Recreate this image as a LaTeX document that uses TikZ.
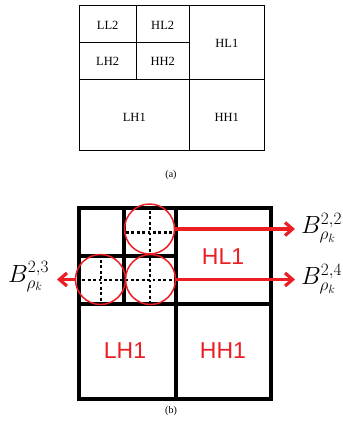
\documentclass[tikz,border=0pt]{standalone}
\usepackage{fontspec}
\setmainfont{Liberation Serif}
\newfontfamily\arialf{Liberation Sans}
\usetikzlibrary{arrows.meta}
\definecolor{rred}{RGB}{235,30,35}
\begin{document}
\begin{tikzpicture}[x=1pt,y=-1pt,
 thingrid/.style={line width=1pt, black},
 thickgrid/.style={line width=3.7pt, black, line join=miter},
 lab/.style={font=\fontsize{12.5}{12.5}\selectfont, inner sep=0},
 sublab/.style={font=\fontsize{23}{23}\selectfont\arialf, text=rred, inner sep=0},
 dotline/.style={line width=2.8pt, dash pattern=on 2.7pt off 2.7pt},
 circ/.style={circle, draw=rred, line width=1.5pt, minimum size=50pt, inner sep=0},
 redarrow/.style={draw=rred, line width=3.2pt, -{Straight Barb[length=7.5pt,width=13pt]}},
 blab/.style={font=\fontsize{24}{24}\selectfont, inner sep=0, anchor=base west},
 captext/.style={font=\fontsize{10}{10}\selectfont, inner sep=0}
]
\useasboundingbox (0,0) rectangle (343,421);
% ---------- (a) ----------
\draw[thingrid] (79.3,5.3) rectangle (264.3,150.7);
\draw[thingrid] (189.3,5.3) -- (189.3,150.7);
\draw[thingrid] (79.3,79.3) -- (264.3,79.3);
\draw[thingrid] (136,5.3) -- (136,79.3);
\draw[thingrid] (79.3,42) -- (189.3,42);
\node[lab] (all2) at (107.7,25) {LL2};
\node[lab] (ahl2) at (162.7,25) {HL2};
\node[lab] (alh2) at (107.7,61.5) {LH2};
\node[lab] (ahh2) at (162.7,61.5) {HH2};
\node[lab] (ahl1) at (226.8,43.5) {HL1};
\node[lab] (alh1) at (134.3,117) {LH1};
\node[lab] (ahh1) at (226.8,117) {HH1};
\node[captext] (capa) at (171,175) {(a)};
% ---------- (b) ----------
\draw[thickgrid] (79.3,208.3) rectangle (270.7,399);
\draw[thickgrid] (175.7,208.3) -- (175.7,399);
\draw[thickgrid] (79.3,304) -- (270.7,304);
\draw[thickgrid] (124.3,208.3) -- (124.3,304);
\draw[thickgrid] (79.3,256) -- (175.7,256);
% dotted subdivisions
\draw[dotline] (126,232.5) -- (174,232.5);
\draw[dotline] (150,211) -- (150,254);
\draw[dotline] (77,280) -- (174,280);
\draw[dotline] (101,260) -- (101,303);
\draw[dotline] (150,258) -- (150,303);
% labels
\node[sublab] (bhl1) at (223,256.5) {HL1};
\node[sublab] (blh1) at (125,351) {LH1};
\node[sublab] (bhh1) at (223,351) {HH1};
% circles
\node[circ] (c22) at (149.5,229) {};
\node[circ] (c23) at (100.5,279.5) {};
\node[circ] (c24) at (150.5,279.5) {};
% arrow ends
\coordinate (t22) at (295,229);
\coordinate (t24) at (295,279.5);
\coordinate (t23) at (57,279.5);
\draw[redarrow] (c22.east) -- (t22);
\draw[redarrow] (c24.east) -- (t24);
\draw[redarrow] (c23.west) -- (t23);
\node[blab] (b22) at (301,233.5) {$B^{2,2}_{\rho_k}$};
\node[blab] (b24) at (301,284.5) {$B^{2,4}_{\rho_k}$};
\node[blab] (b23) at (8,282) {$B^{2,3}_{\rho_k}$};
\node[captext] (capb) at (171,411) {(b)};
\end{tikzpicture}
\end{document}
